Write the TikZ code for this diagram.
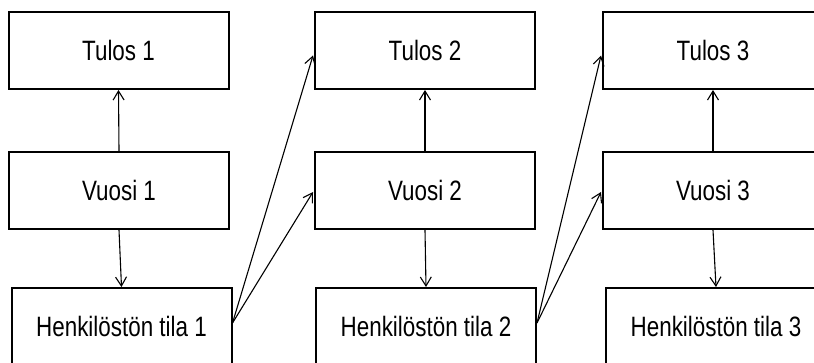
\documentclass[tikz,border=0pt]{standalone}
\usepackage{fontspec}
\setmainfont{Liberation Sans}
\newfontfamily\boxfont[FakeStretch=0.8]{Liberation Sans}
\usetikzlibrary{arrows.meta,calc}
\tikzset{
  box/.style={draw=black, line width=2pt, minimum width=220pt, minimum height=77pt,
    inner sep=0pt, font=\boxfont\fontsize{28pt}{30pt}\selectfont, fill=white},
  conn/.style={draw=black, line width=1.1pt, -{Straight Barb[length=9pt,width=11pt,line width=1.1pt]}}
}
\begin{document}
\begin{tikzpicture}[x=1pt,y=-1pt]
\clip (0,0) rectangle (814,363);
\fill[white] (0,0) rectangle (814,363);
% column 1
\node[box] (t1) at (118.5,50.5) {Tulos 1};
\node[box] (v1) at (119,190.5) {Vuosi 1};
\node[box] (h1) at (121.5,326.5) {Henkilöstön tila 1};
% column 2
\node[box] (t2) at (425,50.5) {Tulos 2};
\node[box] (v2) at (425,190.5) {Vuosi 2};
\node[box] (h2) at (426,326.5) {Henkilöstön tila 2};
% column 3
\node[box] (t3) at (713,50.5) {Tulos 3};
\node[box] (v3) at (713,190.5) {Vuosi 3};
\node[box] (h3) at (716,326.5) {Henkilöstön tila 3};
% vertical arrows
\draw[conn] (v1.north) -- (t1.south);
\draw[conn] (v1.south) -- (h1.north);
\draw[conn] (v2.north) -- (t2.south);
\draw[conn] (v2.south) -- (h2.north);
\draw[conn] (v3.north) -- (t3.south);
\draw[conn] (v3.south) -- (h3.north);
% diagonal arrows
\coordinate (s1) at ($(h1.east)+(0,-3.5)$);
\coordinate (s2) at ($(h2.east)+(0,-3.5)$);
\draw[conn] (s1) -- ($(t2.west)+(-1,5)$);
\draw[conn] (s1) -- ($(v2.west)+(-1,1.5)$);
\draw[conn] (s2) -- ($(t3.west)+(-1,5)$);
\draw[conn] (s2) -- ($(v3.west)+(-1,1.5)$);
\end{tikzpicture}
\end{document}
